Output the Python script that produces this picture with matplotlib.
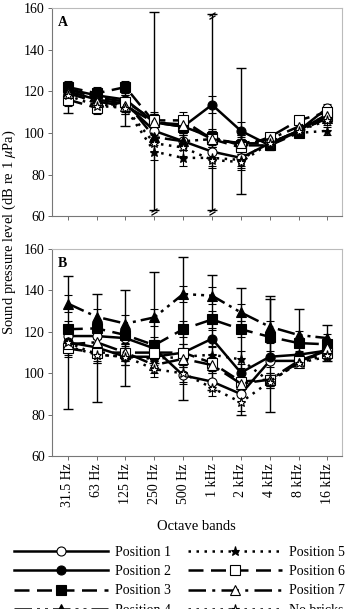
import numpy as np
import matplotlib
matplotlib.use("Agg")
import matplotlib.pyplot as plt
from matplotlib.path import Path

plt.rcParams['font.family'] = ['Liberation Serif', 'DejaVu Serif']
plt.rcParams['mathtext.fontset'] = 'stix'

bands = ["31.5 Hz", "63 Hz", "125 Hz", "250 Hz", "500 Hz",
         "1 kHz", "2 kHz", "4 kHz", "8 kHz", "16 kHz"]
names = ["Position 1", "Position 2", "Position 3", "Position 4",
         "Position 5", "Position 6", "Position 7", "No bricks"]

# panel A means
a_pos1 = [120, 116, 114, 101, 96, 91, 88, 95, 101, 112]
a_pos2 = [121, 118, 116, 105, 103, 113.5, 101, 94, 101, 109]
a_pos3 = [122, 119, 122, 105, 103, 98, 94, 94, 100, 108]
a_pos4 = [121, 117, 115, 98, 96, 97, 95, 95, 101, 107]
a_pos5 = [120, 114, 112, 91, 88, 88, 87, 96, 100, 101]
a_pos6 = [116, 112, 115, 106, 106, 97, 93, 98, 106, 110]
a_pos7 = [119, 115, 113, 105, 104, 97, 95, 97, 103, 108]
a_nob = [118, 113, 112, 95, 93, 87, 86, 95, 101, 106]

# panel B means
b_pos1 = [118, 118, 117, 112, 99, 96, 90, 106, 106, 111]
b_pos2 = [115, 112.5, 108, 108, 110, 116.7, 100.3, 108, 109, 111]
b_pos3 = [121.3, 121.7, 118.5, 113.6, 121.3, 126, 121.3, 117.6, 114.6, 114]
b_pos4 = [133.7, 127.3, 124, 127, 138.3, 137.5, 129.4, 122.5, 118.5, 117]
b_pos5 = [113, 109, 108, 107, 108, 109, 106.7, 96, 105, 108]
b_pos6 = [112, 110, 110, 110, 110, 105, 96, 97, 106, 110]
b_pos7 = [114, 115, 110, 104, 107, 104, 95, 97, 105, 112]
b_nob = [115, 109, 108, 102, 100, 93, 86, 96, 105, 109]

# symmetric errors
a_err = [3, 3, 3, 4, 4, 4, 4, 2, 2, 2]
b_err = [4, 4, 4, 4, 4, 4, 4, 3, 2, 2]

# wide error bars: band index, low, high
a_wide_idx = [0, 2, 3, 5, 6]
a_wide_lo = [109.5, 103.5, 63, 63, 70.5]
a_wide_hi = [123, 121, 158, 157, 131]
a_break_lo = [3, 5]
a_break_hi = [5]

b_wide_idx = [0, 1, 2, 3, 4, 5, 6, 7, 7, 8, 9]
b_wide_lo = [83, 86, 94, 105, 87, 92, 80, 81.5, 107.5, 105, 106]
b_wide_hi = [147, 138.5, 140, 149, 156, 147.5, 141, 136, 137.5, 131, 123.5]

styles = [
    dict(ls='-', marker='o', mfc='white'),
    dict(ls='-', marker='o', mfc='black'),
    dict(ls=(0, (6, 3)), marker='s', mfc='black'),
    dict(ls=(0, (7, 2, 1.2, 2, 1.2, 2)), marker='^', mfc='black'),
    dict(ls=(0, (1, 2.2)), marker='*', mfc='black'),
    dict(ls=(0, (6, 3)), marker='s', mfc='white'),
    dict(ls=(0, (7, 2.5, 1.2, 2.5)), marker='^', mfc='white'),
    dict(ls=(0, (1, 2.2)), marker='*', mfc='white'),
]

brk = Path([(-1, -0.6), (1, 0.6), (-1, -1.6), (1, -0.4)],
           [Path.MOVETO, Path.LINETO, Path.MOVETO, Path.LINETO])

fig = plt.figure(figsize=(3.46, 6.09), dpi=100)
axA = fig.add_axes([0.150, 0.645, 0.838, 0.342])
axB = fig.add_axes([0.150, 0.251, 0.838, 0.340])

x = np.arange(len(bands))

def draw(ax, series, err, wide_idx, wide_lo, wide_hi):
    handles = []
    for vals, st in zip(series, styles):
        vals = np.array(vals, dtype=float)
        ax.errorbar(x, vals, yerr=err, fmt='none', ecolor='black',
                    elinewidth=0.8, capsize=3, capthick=0.8, zorder=2)
        h, = ax.plot(x, vals, color='black', lw=1.8, ls=st['ls'],
                     marker=st['marker'], ms=6.5, mfc=st['mfc'], mec='black',
                     mew=0.8, zorder=3)
        handles.append(h)
    wi = np.array(wide_idx)
    lo = np.array(wide_lo)
    hi = np.array(wide_hi)
    mid = (lo + hi) / 2
    ax.errorbar(wi, mid, yerr=[mid - lo, hi - mid], fmt='none', ecolor='black',
                elinewidth=1.0, capsize=3.5, capthick=1.0, zorder=2)
    ax.set_xlim(-0.55, 9.5)
    ax.set_ylim(60, 160)
    ax.set_yticks([60, 80, 100, 120, 140, 160])
    ax.set_xticks(x)
    ax.tick_params(axis='both', labelsize=10, length=3, width=0.6,
                   color='#555555', pad=2)
    for s in ax.spines.values():
        s.set_color('#bbbbbb')
        s.set_linewidth(0.8)
    ax.spines['left'].set_color('#777777')
    ax.spines['bottom'].set_color('#777777')
    return handles

handles = draw(axA, [a_pos1, a_pos2, a_pos3, a_pos4, a_pos5, a_pos6, a_pos7, a_nob],
               a_err, a_wide_idx, a_wide_lo, a_wide_hi)
axA.set_xticklabels([])
lo_map = dict(zip(a_wide_idx, a_wide_lo))
hi_map = dict(zip(a_wide_idx, a_wide_hi))
axA.plot(a_break_lo, [lo_map[i] for i in a_break_lo], ls='none', marker=brk,
         ms=7, mec='black', mew=0.9, zorder=4, clip_on=False)
axA.plot(a_break_hi, [hi_map[i] for i in a_break_hi], ls='none', marker=brk,
         ms=7, mec='black', mew=0.9, zorder=4, clip_on=False)
axA.text(0.02, 0.93, "A", transform=axA.transAxes, fontsize=10,
         fontweight='bold', va='center')

draw(axB, [b_pos1, b_pos2, b_pos3, b_pos4, b_pos5, b_pos6, b_pos7, b_nob],
     b_err, b_wide_idx, b_wide_lo, b_wide_hi)
axB.set_xticklabels(bands, rotation=90)
axB.set_xlabel("Octave bands", fontsize=10.5, labelpad=9)
axB.text(0.02, 0.93, "B", transform=axB.transAxes, fontsize=10,
         fontweight='bold', va='center')

fig.text(0.028, 1 - 232 / 609, "Sound pressure level (dB re 1 $\\mu$Pa)",
         rotation=90, va='center', ha='center', fontsize=10.5)

fig.legend(handles, names, ncol=2, loc='upper left',
           bbox_to_anchor=(0.04, 1 - 546 / 609), frameon=False,
           fontsize=10, handlelength=6.8, handletextpad=0.5,
           columnspacing=1.2, labelspacing=0.45, borderpad=0,
           borderaxespad=0)

fig.savefig("out.png", dpi=100)
